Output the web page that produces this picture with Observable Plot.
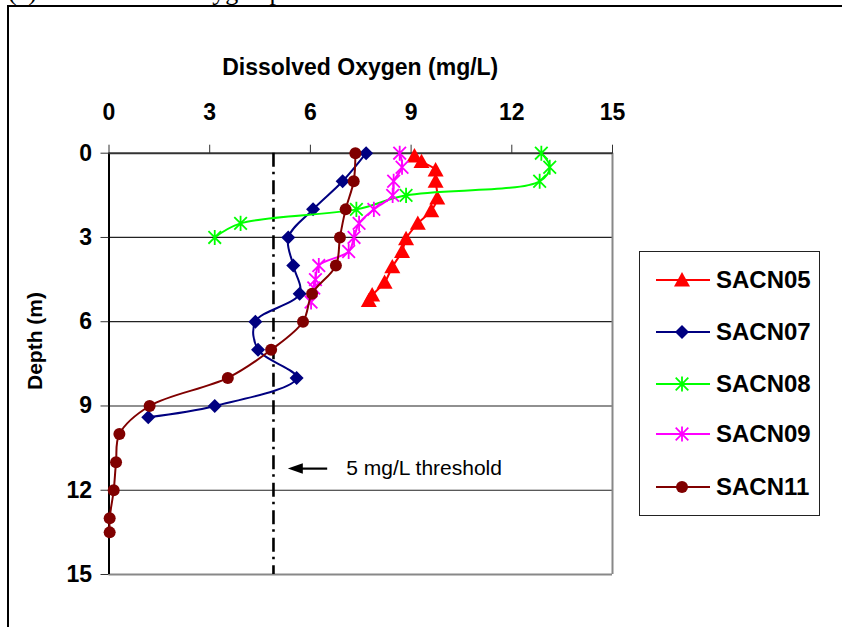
<!DOCTYPE html>
<html>
<head>
<meta charset="utf-8">
<script src="https://cdn.jsdelivr.net/npm/d3@7"></script>
<script src="https://cdn.jsdelivr.net/npm/@observablehq/plot@0.6"></script>
<style>
  html, body { margin: 0; padding: 0; background: #fff; width: 842px; height: 627px; overflow: hidden; }
  #wrap { position: relative; width: 842px; height: 627px; }
  #chart { position: absolute; left: 0; top: 0; }
  #frame { position: absolute; left: 7px; top: 5px; width: 900px; height: 700px; border-left: 2px solid #000; border-top: 2px solid #000; }
  #title { position: absolute; left: 8px; top: -23px; font-family: "Liberation Serif", "Times New Roman", serif; font-size: 26px; white-space: pre; color: #000; }
  #legend { position: absolute; left: 639px; top: 251px; width: 179px; height: 263px; border: 1px solid #222; background: #fff; }
  .lg-row { position: absolute; left: 0; height: 30px; display: flex; align-items: center; }
  .lg-row span { font-family: "Liberation Sans", Arial, sans-serif; font-weight: bold; font-size: 24px; margin-left: 5px; color: #000; }
</style>
</head>
<body>
<div id="wrap">
  <div id="chart"></div>
  <div id="frame"></div>
  <div id="title">(c)      Dissolved oxygen profiles at the sites</div>
  <div id="legend"></div>
</div>
<script>
// ---- data ----
const seriesNames = ["SACN05", "SACN07", "SACN08", "SACN09", "SACN11"];
const seriesColors = ["#FF0000", "#000080", "#00FF00", "#FF00FF", "#800000"];
const seriesSymbols = ["triangle", "diamond", "star", "star", "circle"];

const depth05 = [0.1, 0.3, 0.6, 1.0, 1.6, 2.05, 2.5, 3.05, 3.5, 4.05, 4.6, 5.05, 5.25];
const do05    = [9.10, 9.31, 9.73, 9.73, 9.78, 9.60, 9.20, 8.85, 8.73, 8.44, 8.21, 7.84, 7.74];

const depth07 = [0, 1, 2, 3, 4, 5, 6, 7, 8, 9, 9.4];
const do07    = [7.66, 6.96, 6.08, 5.34, 5.49, 5.68, 4.36, 4.44, 5.59, 3.15, 1.17];

const depth08 = [0, 0.5, 1, 1.5, 2, 2.5, 3];
const do08    = [12.88, 13.13, 12.83, 8.85, 7.37, 3.92, 3.15];

const depth09 = [0, 0.5, 1, 1.5, 2, 2.5, 3, 3.5, 4, 4.5, 4.8, 5.3];
const do09    = [8.66, 8.73, 8.48, 8.45, 7.89, 7.45, 7.30, 7.14, 6.25, 6.15, 6.10, 6.02];

const depth11 = [0, 1, 2, 3, 4, 5, 6, 7, 8, 9, 10, 11, 12, 13, 13.5];
const do11    = [7.34, 7.29, 7.05, 6.88, 6.76, 6.05, 5.78, 4.83, 3.54, 1.21, 0.31, 0.21, 0.14, 0.02, 0.02];

const xTicks = [0, 3, 6, 9, 12, 15];
const yTicks = [0, 3, 6, 9, 12, 15];
const gridDepths = [3, 6, 9, 12];
const threshold = 4.9;           // drawn position of the "5 mg/L threshold" line
const annotationDepth = 11.23;
const annotationArrowFrom = 6.5;
const annotationArrowTo = 5.6;
const annotationTip = 5.55;
const annotationTextAt = 7.07;
const annotationText = "5 mg/L threshold";
const xTitle = "Dissolved Oxygen (mg/L)";
const yTitle = "Depth (m)";

const depths = [depth05, depth07, depth08, depth09, depth11];
const values = [do05, do07, do08, do09, do11];

// ---- custom symbols ----
const symbols = {
  triangle: { draw(ctx, size) { const r = Math.sqrt(size / Math.PI);
    ctx.moveTo(0, -r); ctx.lineTo(r, r * 0.8); ctx.lineTo(-r, r * 0.8); ctx.closePath(); } },
  diamond: { draw(ctx, size) { const r = Math.sqrt(size / Math.PI);
    ctx.moveTo(0, -r); ctx.lineTo(r, 0); ctx.lineTo(0, r); ctx.lineTo(-r, 0); ctx.closePath(); } },
  star: { draw(ctx, size) { const r = Math.sqrt(size / Math.PI);
    ctx.moveTo(-r, -r); ctx.lineTo(r, r); ctx.moveTo(r, -r); ctx.lineTo(-r, r);
    ctx.moveTo(0, -r * 1.2); ctx.lineTo(0, r * 1.2); } },
  circle: { draw(ctx, size) { const r = Math.sqrt(size / Math.PI);
    ctx.moveTo(r, 0); ctx.arc(0, 0, r, 0, 2 * Math.PI); } },
  leftTri: { draw(ctx, size) { const r = Math.sqrt(size / Math.PI);
    ctx.moveTo(-r, 0); ctx.lineTo(r, -r * 0.7); ctx.lineTo(r, r * 0.7); ctx.closePath(); } }
};
const symbolR = { triangle: 8, diamond: 7, star: 6.3, circle: 6 };

function dotOpts(i) {
  const s = seriesSymbols[i];
  const c = seriesColors[i];
  if (s === "star") return { x: "v", y: "d", symbol: symbols.star, r: symbolR.star, fill: "none", stroke: c, strokeWidth: 1.8 };
  return { x: "v", y: "d", symbol: symbols[s], r: symbolR[s], fill: c, stroke: "none" };
}

const marks = [
  Plot.ruleY(gridDepths, { stroke: "#222", strokeWidth: 1.2 }),
  Plot.ruleX([15], { stroke: "#888", strokeWidth: 2 }),
  Plot.ruleY([15], { stroke: "#888", strokeWidth: 2 }),
  Plot.ruleX([0], { stroke: "#000", strokeWidth: 2 }),
  Plot.ruleY([0], { stroke: "#333", strokeWidth: 2 }),
  Plot.ruleX([threshold], { stroke: "#000", strokeWidth: 2.6, strokeDasharray: "14,5,2.5,6" }),
  Plot.axisX({ anchor: "top", ticks: xTicks, tickSize: 9, tickPadding: 24, fontSize: 23, fontWeight: "bold", label: null, stroke: "#333" }),
  Plot.axisY({ anchor: "left", ticks: yTicks, tickSize: 8, tickPadding: 9, fontSize: 23, fontWeight: "bold", label: null, stroke: "#333" }),
];

seriesNames.forEach((name, i) => {
  const data = depths[i].map((d, k) => ({ d, v: values[i][k] }));
  marks.push(Plot.line(data, { x: "v", y: "d", stroke: seriesColors[i], strokeWidth: 2, curve: "catmull-rom" }));
  marks.push(Plot.dot(data, dotOpts(i)));
});

// annotation
marks.push(Plot.link([{ a: annotationArrowFrom, b: annotationArrowTo, d: annotationDepth }], { x1: "a", x2: "b", y1: "d", y2: "d", stroke: "#000", strokeWidth: 2.2 }));
marks.push(Plot.dot([{ a: annotationTip, d: annotationDepth }], { x: "a", y: "d", symbol: symbols.leftTri, r: 7.5, fill: "#000" }));
marks.push(Plot.text([{ a: annotationTextAt, d: annotationDepth, t: annotationText }], { x: "a", y: "d", text: "t", textAnchor: "start", fontSize: 21, fill: "#000" }));

const chart = Plot.plot({
  width: 842,
  height: 627,
  marginLeft: 108.5,
  marginRight: 230,
  marginTop: 152.7,
  marginBottom: 53,
  x: { domain: [0, 15] },
  y: { domain: [0, 15], reverse: true },
  style: { fontFamily: "'Liberation Sans', Arial, sans-serif", background: "transparent", color: "#000", overflow: "visible" },
  marks
});

const svg = d3.select(chart);
svg.append("text").text(xTitle)
  .attr("x", (108.5 + 612) / 2).attr("y", 69)
  .attr("text-anchor", "middle").attr("dominant-baseline", "middle")
  .attr("font-size", 23).attr("font-weight", "bold").attr("fill", "#000");
svg.append("text").text(yTitle)
  .attr("transform", "translate(36,341) rotate(-90)")
  .attr("text-anchor", "middle").attr("dominant-baseline", "middle")
  .attr("font-size", 21).attr("font-weight", "bold").attr("fill", "#000");

document.getElementById("chart").appendChild(chart);

// ---- legend ----
const legend = d3.select("#legend");
const rowY = [28, 80, 132, 182, 235];
seriesNames.forEach((name, i) => {
  const row = legend.append("div").attr("class", "lg-row").style("top", (rowY[i] - 15) + "px").style("left", "15px");
  const s = row.append("svg").attr("width", 56).attr("height", 30);
  s.append("line").attr("x1", 1).attr("x2", 55).attr("y1", 15).attr("y2", 15).attr("stroke", seriesColors[i]).attr("stroke-width", 2);
  const sym = seriesSymbols[i];
  const p = d3.path();
  const r = symbolR[sym];
  symbols[sym].draw(p, Math.PI * r * r);
  const path = s.append("path").attr("d", p.toString()).attr("transform", "translate(27,15)");
  if (sym === "star") path.attr("fill", "none").attr("stroke", seriesColors[i]).attr("stroke-width", 1.8);
  else path.attr("fill", seriesColors[i]);
  row.append("span").text(name);
});
</script>
</body>
</html>
